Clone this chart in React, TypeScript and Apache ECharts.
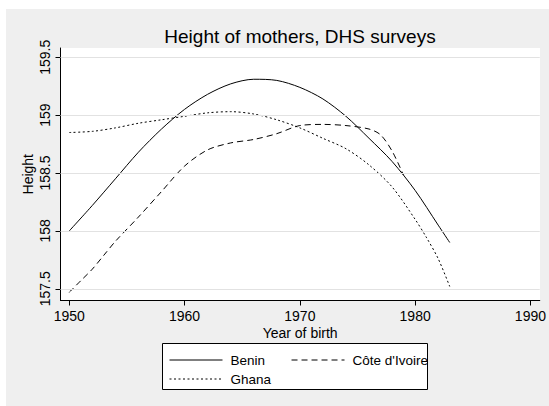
import React, { useEffect, useRef } from "react";
import * as echarts from "echarts";

const titleText = "Height of mothers, DHS surveys";
const xTicks = [1950, 1960, 1970, 1980, 1990];
const yTicks = [157.5, 158, 158.5, 159, 159.5];

const beninYears = [1950, 1952, 1954, 1956, 1958, 1960, 1962, 1964, 1966, 1968, 1970, 1972, 1974, 1976, 1978, 1980, 1982, 1983];
const beninValues = [158.0, 158.22, 158.45, 158.68, 158.88, 159.05, 159.18, 159.27, 159.31, 159.3, 159.24, 159.14, 158.99, 158.8, 158.6, 158.35, 158.05, 157.9];

const civYears = [1950, 1951, 1952, 1953, 1954, 1956, 1958, 1960, 1962, 1964, 1966, 1968, 1970, 1972, 1974, 1976, 1977, 1978, 1979];
const civValues = [157.47, 157.57, 157.67, 157.79, 157.91, 158.12, 158.34, 158.56, 158.7, 158.76, 158.79, 158.84, 158.91, 158.92, 158.91, 158.88, 158.83, 158.69, 158.48];

const ghanaYears = [1950, 1952, 1954, 1956, 1958, 1960, 1962, 1964, 1966, 1968, 1970, 1972, 1974, 1976, 1978, 1980, 1981, 1982, 1983];
const ghanaValues = [158.85, 158.86, 158.89, 158.93, 158.96, 158.99, 159.02, 159.03, 159.01, 158.96, 158.89, 158.8, 158.71, 158.57, 158.38, 158.1, 157.94, 157.76, 157.52];

const FONT = "'Liberation Sans', Arial, sans-serif";

function pairs(xs: number[], ys: number[]) {
  return xs.map((x, i) => [x, ys[i]]);
}

export default function App() {
  const ref = useRef<HTMLDivElement>(null);
  useEffect(() => {
    const chart = echarts.init(ref.current!, null, { renderer: "svg" });
    const lineSeries = (name: string, data: number[][], type: any) => ({
      name,
      type: "line",
      data,
      smooth: 0.3,
      symbol: "none",
      showSymbol: false,
      z: 3,
      lineStyle: { color: "#000", width: 1, type },
      itemStyle: { color: "#000" },
    });
    const legendCommon = {
      left: 169,
      padding: 0,
      itemGap: 26,
      itemWidth: 53,
      itemHeight: 14,
      itemStyle: { opacity: 0, borderWidth: 0 },
      lineStyle: { width: 1 },
      textStyle: { color: "#000", fontSize: 13.5, fontFamily: FONT, padding: [0, 0, 0, 3] },
      z: 5,
    };
    chart.setOption({
      animation: false,
      backgroundColor: "#ffffff",
      textStyle: { fontFamily: FONT },
      graphic: [
        { type: "rect", z: -100, shape: { x: 6, y: 9, width: 543, height: 397 }, style: { fill: "#efefef" } },
        { type: "rect", z: -99, shape: { x: 60.5, y: 48, width: 479.5, height: 252.5 }, style: { fill: "#ffffff" } },
        { type: "rect", z: 3, shape: { x: 162.5, y: 343.5, width: 265, height: 46 }, style: { fill: "#ffffff", stroke: "#000", lineWidth: 1 } },
        {
          type: "text",
          x: 300,
          y: 27,
          style: { text: titleText, fill: "#000", font: `19px ${FONT}`, textAlign: "center", textVerticalAlign: "top" },
        },
      ],
      grid: { left: 60.5, top: 48, right: 9, bottom: 105.5, containLabel: false },
      xAxis: {
        type: "value",
        min: 1949.24,
        max: 1990.81,
        name: "Year of birth",
        nameLocation: "middle",
        nameGap: 25,
        nameMoveOverlap: false,
        nameTextStyle: { color: "#000", fontSize: 14, fontFamily: FONT },
        axisLine: { show: true, lineStyle: { color: "#000", width: 1 } },
        axisTick: { show: true, length: 5, customValues: xTicks, lineStyle: { color: "#000" } },
        axisLabel: {
          customValues: xTicks,
          color: "#000",
          fontSize: 14,
          margin: 8,
          fontFamily: FONT,
          formatter: (v: number) => String(Math.round(v)),
        },
        splitLine: { show: false },
      },
      yAxis: {
        type: "value",
        min: 157.399,
        max: 159.58,
        name: "Height",
        nameLocation: "middle",
        nameRotate: 90,
        nameGap: 26,
        nameMoveOverlap: false,
        nameTextStyle: { color: "#000", fontSize: 14, fontFamily: FONT },
        axisLine: { show: true, lineStyle: { color: "#000", width: 1 } },
        axisTick: { show: true, length: 5, customValues: yTicks, lineStyle: { color: "#000" } },
        axisLabel: {
          customValues: yTicks,
          color: "#000",
          fontSize: 14,
          margin: 9,
          rotate: 90,
          fontFamily: FONT,
          formatter: (v: number) => String(v),
        },
        splitLine: { show: false },
      },
      legend: [
        { ...legendCommon, data: ["Benin", "Côte d'Ivoire"], top: 353 },
        { ...legendCommon, data: ["Ghana"], top: 372 },
      ],
      series: [
        {
          name: "gridlines",
          type: "line",
          data: [],
          z: 1,
          silent: true,
          markLine: {
            silent: true,
            symbol: "none",
            label: { show: false },
            lineStyle: { color: "#e2e2e2", width: 1, type: "solid" },
            data: yTicks.map((v) => ({ yAxis: v })),
          },
        },
        lineSeries("Benin", pairs(beninYears, beninValues), "solid"),
        lineSeries("Côte d'Ivoire", pairs(civYears, civValues), [6, 4]),
        lineSeries("Ghana", pairs(ghanaYears, ghanaValues), [2, 2.5]),
      ],
    });
    return () => chart.dispose();
  }, []);
  return <div ref={ref} style={{ position: "fixed", left: 0, top: 0, width: 549, height: 406 }} />;
}
